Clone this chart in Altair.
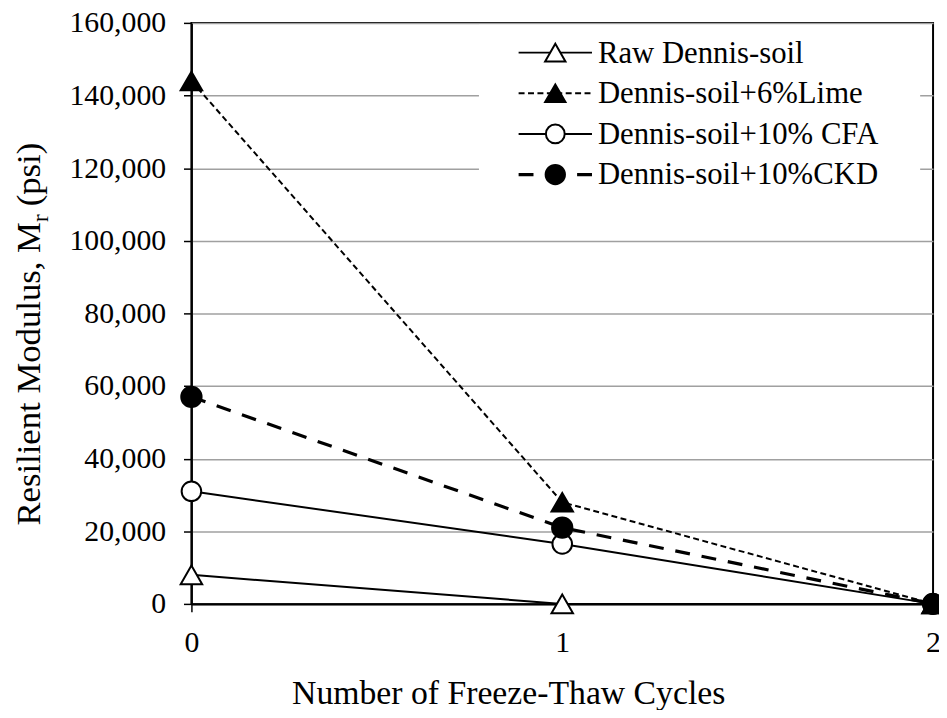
import altair as alt
import pandas as pd

# ---------------- data ----------------
cycles = [0, 1, 2]
series_names = [
    "Raw Dennis-soil",
    "Dennis-soil+6%Lime",
    "Dennis-soil+10% CFA",
    "Dennis-soil+10%CKD",
]
raw = [8000, 0, 0]
lime = [144000, 28000, 0]
cfa = [31000, 16500, 0]
ckd = [57000, 21000, 0]
y_ticks = [0, 20000, 40000, 60000, 80000, 100000, 120000, 140000, 160000]
x_ticks = [0, 1, 2]

x_title = "Number of Freeze-Thaw Cycles"
y_title_main = "Resilient Modulus, M"
y_title_sub = "r"
y_title_tail = "(psi)"

# ---------------- styling ----------------
W, H = 748, 586
FONT = "'Liberation Serif', 'Times New Roman', Times, serif"

styles = {
    "Raw Dennis-soil": dict(shape="triangle-up", fill="white", width=2, dash=None, size=470, lsize=420, ldash=None),
    "Dennis-soil+6%Lime": dict(shape="triangle-up", fill="black", width=2, dash=[6, 3.5], size=470, lsize=420, ldash=[6, 3.5]),
    "Dennis-soil+10% CFA": dict(shape="circle", fill="white", width=2, dash=None, size=390, lsize=360, ldash=None),
    "Dennis-soil+10%CKD": dict(shape="circle", fill="black", width=3.2, dash=[15, 12], size=420, lsize=380, ldash=[15, 14.5]),
}

values = [raw, lime, cfa, ckd]
df = pd.DataFrame({
    "cycles": [c for _ in series_names for c in cycles],
    "mr": [v for vals in values for v in vals],
    "series": [n for n in series_names for _ in cycles],
})

x_enc = alt.X(
    "cycles:Q",
    scale=alt.Scale(domain=[0, 2], nice=False, zero=False),
    axis=alt.Axis(values=x_ticks, title="", grid=False, tickSize=8, tickWidth=1.5,
                  tickColor="black", domainColor="black", domainWidth=2,
                  labelFont=FONT, labelFontSize=30, labelColor="black",
                  labelPadding=16, labelFlush=False, labelOverlap=False,
                  labelExpr="format(datum.value, 'd')"),
)
y_enc = alt.Y(
    "mr:Q",
    scale=alt.Scale(domain=[0, 160000], nice=False),
    axis=alt.Axis(values=y_ticks, title="", grid=True, gridColor="#a0a0a0", gridWidth=1.5,
                  tickSize=8, tickWidth=1.5, tickColor="black", domainColor="black",
                  domainWidth=2, labelFont=FONT, labelFontSize=30, labelColor="black",
                  labelPadding=18, labelOverlap=False, labelFlush=False,
                  labelExpr="format(datum.value, ',')"),
)

one = alt.Data(values=[{"k": 0}])

layers = []
# legend background box (covers grid lines)
layers.append(
    alt.Chart(one).mark_rect(fill="white").encode(
        x=alt.value(290), x2=alt.value(735), y=alt.value(2), y2=alt.value(180)
    )
)

for name in series_names:
    st = styles[name]
    sub = df[df["series"] == name]
    line_kw = dict(color="black", strokeWidth=st["width"])
    if st["dash"]:
        line_kw["strokeDash"] = st["dash"]
    layers.append(alt.Chart(sub).mark_line(**line_kw).encode(x=x_enc, y=y_enc))
    layers.append(
        alt.Chart(sub).mark_point(shape=st["shape"], size=st["size"], filled=True,
                                  fill=st["fill"], stroke="black", strokeWidth=2,
                                  opacity=1).encode(x=x_enc, y=y_enc)
    )

# custom legend
leg_y = [30, 71, 112, 153]
for i, name in enumerate(series_names):
    st = styles[name]
    rk = dict(color="black", strokeWidth=st["width"])
    if st["ldash"]:
        rk["strokeDash"] = st["ldash"]
    layers.append(
        alt.Chart(one).mark_rule(**rk).encode(
            x=alt.value(330), x2=alt.value(404), y=alt.value(leg_y[i])
        )
    )
    layers.append(
        alt.Chart(one).mark_point(shape=st["shape"], size=st["lsize"], filled=True,
                                  fill=st["fill"], stroke="black", strokeWidth=2,
                                  opacity=1).encode(x=alt.value(367), y=alt.value(leg_y[i]))
    )
    layers.append(
        alt.Chart(one).mark_text(font=FONT, fontSize=31, align="left", baseline="middle",
                                 color="black").encode(
            x=alt.value(410), y=alt.value(leg_y[i] + 1), text=alt.value(name)
        )
    )

# x axis title (plot coordinates: baseline ~101px below the plot bottom)
layers.append(
    alt.Chart(one).mark_text(font=FONT, fontSize=34, align="center", baseline="alphabetic",
                             color="black").encode(
        x=alt.value(320), y=alt.value(H + 101), text=alt.value(x_title)
    )
)

# y axis title with subscript (rotated)
fs_main, fs_sub = 35, 23
main_w = 8.751 * fs_main
sub_w = 0.333 * fs_sub
y0 = 507
xb = -153
layers.append(
    alt.Chart(one).mark_text(font=FONT, fontSize=fs_main, align="left", baseline="alphabetic",
                             angle=270, color="black").encode(
        x=alt.value(xb), y=alt.value(y0), text=alt.value(y_title_main)
    )
)
layers.append(
    alt.Chart(one).mark_text(font=FONT, fontSize=fs_sub, align="left", baseline="alphabetic",
                             angle=270, color="black").encode(
        x=alt.value(xb + 8), y=alt.value(y0 - main_w), text=alt.value(y_title_sub)
    )
)
layers.append(
    alt.Chart(one).mark_text(font=FONT, fontSize=fs_main, align="left", baseline="alphabetic",
                             angle=270, color="black").encode(
        x=alt.value(xb), y=alt.value(y0 - main_w - sub_w - 8), text=alt.value(y_title_tail)
    )
)

chart = (
    alt.layer(*layers)
    .properties(
        width=W,
        height=H,
        autosize=alt.AutoSizeParams(type="none"),
        padding={"left": 185, "top": 12, "right": 6, "bottom": 104},
        background="white",
    )
    .configure_view(stroke="black", strokeWidth=2)
)

chart.save("out.html", embed_options={"renderer": "svg", "actions": False})
